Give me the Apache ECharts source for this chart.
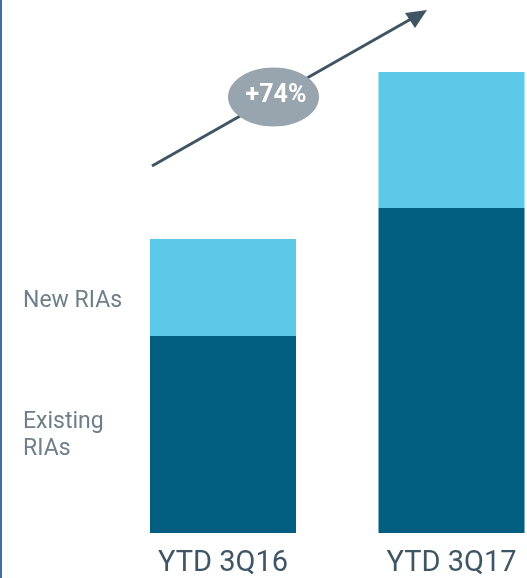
<!DOCTYPE html>
<html>
<head>
<meta charset="utf-8">
<script src="https://cdn.jsdelivr.net/npm/echarts@6/dist/echarts.min.js"></script>
<style>
html,body{margin:0;padding:0;background:#fff;}
#chart{width:527px;height:578px;}
</style>
</head>
<body>
<div id="chart"></div>
<script>
// Data (relative units)
var categories = ['YTD 3Q16', 'YTD 3Q17'];
var existingRIAs = [197, 325];
var newRIAs = [97, 136];
var seriesNames = ['Existing RIAs', 'New RIAs'];
var growthLabel = '+74%';

var chart = echarts.init(document.getElementById('chart'));
chart.setOption({
  animation: false,
  backgroundColor: '#ffffff',
  grid: { left: 223, top: 0, right: 75.5, height: 533 },
  xAxis: {
    type: 'category',
    data: categories,
    boundaryGap: false,
    axisLine: { show: false },
    axisTick: { show: false },
    axisLabel: {
      margin: 16,
      fontFamily: 'Roboto',
      fontSize: 29,
      color: '#3e5566'
    }
  },
  yAxis: {
    type: 'value',
    min: 0,
    max: 533,
    show: false
  },
  series: [
    {
      name: seriesNames[0],
      type: 'bar',
      stack: 'total',
      barWidth: 146,
      data: existingRIAs,
      itemStyle: { color: '#025e81' }
    },
    {
      name: seriesNames[1],
      type: 'bar',
      stack: 'total',
      barWidth: 146,
      data: newRIAs,
      itemStyle: { color: '#5bc9e7' }
    }
  ],
  graphic: [
    { type: 'rect', left: 0, top: 0, shape: { x: 0, y: 0, width: 2, height: 578 }, style: { fill: '#3f6fa8' } },
    { type: 'text', left: 23, top: 290, style: { text: 'New RIAs', fontFamily: 'Roboto', fontSize: 23, fill: '#6e7f8b' } },
    { type: 'text', left: 23, top: 409, style: { text: 'Existing\nRIAs', fontFamily: 'Roboto', fontSize: 23, lineHeight: 27, fill: '#6e7f8b' } },
    { type: 'line', shape: { x1: 152, y1: 166, x2: 418, y2: 15 }, style: { stroke: '#3f5563', lineWidth: 3 } },
    { type: 'polygon', shape: { points: [[427, 10], [405, 13], [415, 28]] }, style: { fill: '#3f5563' } },
    { type: 'ellipse', shape: { cx: 273.5, cy: 97, rx: 45.5, ry: 29.5 }, style: { fill: '#99a5ae' } },
    { type: 'text', x: 276, y: 96, style: { text: growthLabel, fontFamily: 'Roboto', fontWeight: 'bold', fontSize: 25, fill: '#ffffff', align: 'center', verticalAlign: 'middle' } }
  ]
});
</script>
</body>
</html>
